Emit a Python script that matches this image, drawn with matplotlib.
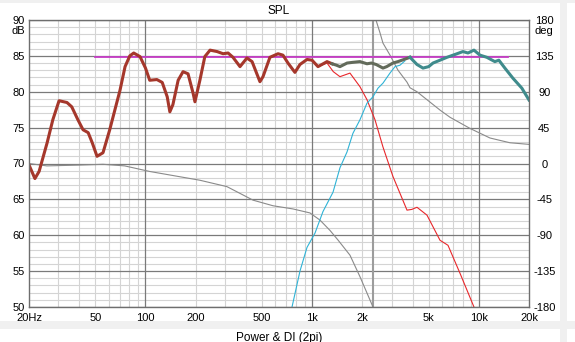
import matplotlib
matplotlib.use("Agg")
import matplotlib.pyplot as plt
from matplotlib.patches import Rectangle

plt.rcParams['font.family'] = ['Liberation Sans', 'DejaVu Sans']
plt.rcParams['font.size'] = 8

# --- SPL, summed response (low part, brown) ---
sum_lo_f = [20, 21.7, 23, 25.7, 27.8, 30.3, 33.8, 36.1, 39.3, 42.2, 45.3, 47.9,
            51.2, 55.6, 61, 70.3, 75.4, 80.5, 85, 92.7, 100, 106, 117, 126, 135,
            140, 146, 157, 168, 180, 193, 198, 212, 227, 244, 269, 292, 313, 335,
            369, 406, 436, 486, 507, 558, 624, 668, 716, 788, 845, 931, 998,
            1084, 1228, 1316]
sum_lo_db = [69.8, 67.9, 68.9, 72.9, 76.1, 78.75, 78.5, 77.9, 76.1, 74.7, 74.3, 72.9,
             71.0, 71.5, 74.7, 80.2, 83.5, 85.0, 85.4, 84.9, 83.3, 81.6, 81.7, 81.3, 79.3,
             77.2, 78.2, 81.6, 82.8, 82.5, 79.8, 78.6, 81.6, 84.9, 85.8, 85.6, 85.3, 85.4, 84.8,
             83.5, 84.7, 84.2, 81.4, 82.1, 84.8, 85.3, 85.1, 84.0, 82.7, 83.8, 84.5, 84.4,
             83.5, 84.2, 83.9]

# --- summed response, crossover region (dark grey) ---
sum_mid_f = [1316, 1400, 1468, 1620, 1756, 1936, 2132, 2270, 2420, 2660, 2800, 3052, 3270, 3864]
sum_mid_db = [83.9, 83.7, 83.5, 84.0, 84.1, 84.2, 83.9, 84.0, 83.8, 83.3, 83.5, 84.0, 84.2, 84.8]

# --- summed response, tweeter region (teal) ---
sum_hi_f = [3864, 4255, 4624, 5000, 5309, 5850, 6440, 7200, 8030, 8610, 9350,
            10160, 11170, 12480, 13190, 14330, 16000, 18120, 20000]
sum_hi_db = [84.8, 83.8, 83.3, 83.5, 84.0, 84.4, 84.8, 85.2, 85.6, 85.4, 85.8,
             85.1, 84.8, 84.2, 84.4, 83.3, 81.9, 80.5, 78.85]

# --- woofer (red) ---
woofer_f = [1084, 1228, 1339, 1468, 1686, 1936, 2132, 2382, 2660, 3052, 3707,
            3960, 4255, 4886, 5850, 6530, 7710, 9350, 9800]
woofer_db = [83.5, 84.0, 82.8, 82.1, 82.6, 80.7, 78.9, 76.1, 72.3, 68.2, 63.5,
             63.6, 63.9, 62.8, 59.3, 58.6, 54.7, 50.0, 49.0]

# --- tweeter (cyan) ---
tweeter_f = [740, 757, 845, 931, 1040, 1161, 1334, 1468, 1618, 1756, 1936, 2132,
             2317, 2483, 2660, 2930, 3140, 3365, 3600]
tweeter_db = [48.5, 50, 55, 58.3, 60.3, 63.3, 66, 69.4, 71.6, 74.2, 76.1, 78.4,
              79.3, 80.5, 81.2, 82.6, 83.5, 83.7, 84.3]

# --- phase curves (deg, right axis) ---
phase_lo_f = [20, 25.6, 40, 55.6, 75, 106, 212, 308, 442, 582, 767, 970, 1114,
              1280, 1429, 1686, 1936, 2317]
phase_lo_deg = [0, -3, -2, -1, -3, -10, -21, -29, -46, -53, -57, -62, -71,
                -84, -96, -115, -142, -180]
phase_hi_f = [2414, 2552, 2660, 2930, 3274, 3707, 3864, 4255, 5094, 5850, 6714,
              8852, 11660, 15380, 20000]
phase_hi_deg = [180, 164, 151, 136, 117, 102, 95, 90, 77, 67, 58, 44, 32, 26, 24]

# target level and crossover frequency
target_f = [50, 15000]
target_db = [84.85, 84.85]
xover_f = 2330

x_ticks = [20, 50, 100, 200, 500, 1000, 2000, 5000, 10000, 20000]
x_labels = ['20Hz', '50', '100', '200', '500', '1k', '2k', '5k', '10k', '20k']
y_ticks = list(range(50, 91, 5))
deg_ticks = list(range(-180, 181, 45))

W, H = 575, 342
fig = plt.figure(figsize=(W / 100, H / 100), dpi=100, facecolor='#f0f0f0')

# white panels of the window
for x0, y0, x1, y1 in [(0, 3, 560, 321), (0, 329, 560, 342),
                       (567, 3, 575, 321), (567, 329, 575, 342)]:
    fig.patches.append(Rectangle((x0 / W, 1 - y1 / H), (x1 - x0) / W, (y1 - y0) / H,
                                 transform=fig.transFigure, facecolor='white',
                                 edgecolor='none', zorder=-10))

ax = fig.add_axes([29 / W, (H - 307) / H, 500 / W, 287 / H])
ax.set_xscale('log')
ax.set_xlim(20, 20000)
ax.set_ylim(50, 90)
ph = ax.twinx()
ph.set_ylim(-180, 180)
ax.set_zorder(2)
ph.set_zorder(1)
ax.patch.set_visible(False)

light = '#d4d4d4'
dark = '#7a7a7a'
# grid (drawn on the phase axes so that it stays under every curve)
minor_f = [f * m for m in (10, 100, 1000) for f in range(2, 10)]
minor_f = [f for f in minor_f if 20 < f < 20000]
for f in minor_f:
    ph.axvline(f, color=light, lw=0.8, zorder=0)
for f in (100, 1000, 10000):
    ph.axvline(f, color=dark, lw=0.9, zorder=0.5)
for d in range(-180, 181, 9):
    if d % 45 == 0:
        ph.axhline(d, color=dark, lw=0.9, zorder=0.5)
    else:
        ph.axhline(d, color=light, lw=0.8, zorder=0)

ph.axvline(xover_f, color='#9c9c9c', lw=1.5, zorder=1)
ph.plot(phase_lo_f, phase_lo_deg, color='#8a8a8a', lw=0.8, zorder=2)
ph.plot(phase_hi_f, phase_hi_deg, color='#8a8a8a', lw=0.8, zorder=2)

ax.plot(woofer_f, woofer_db, color='#e8272b', lw=0.8)
ax.plot(tweeter_f, tweeter_db, color='#2fb3d6', lw=0.8)
ax.plot(target_f, target_db, color='#c63cc6', lw=1.3)
ax.plot(sum_lo_f, sum_lo_db, color='#a5372b', lw=2.2, solid_joinstyle='round')
ax.plot(sum_mid_f, sum_mid_db, color='#626a5a', lw=2.2, solid_joinstyle='round')
ax.plot(sum_hi_f, sum_hi_db, color='#3f8b8c', lw=2.2, solid_joinstyle='round')

ax.set_xticks(x_ticks)
ax.set_xticklabels(x_labels)
ax.xaxis.set_minor_locator(matplotlib.ticker.NullLocator())
ax.set_yticks(y_ticks)
ax.set_yticklabels([str(v) for v in y_ticks])
ax.tick_params(axis='both', length=0, labelsize=8)
ax.tick_params(axis='x', pad=4.5)
ax.tick_params(axis='y', pad=3)

ph.set_yticks(deg_ticks)
ph.set_yticklabels([str(v) for v in deg_ticks])
ph.tick_params(axis='y', length=0, labelsize=8, pad=11)
for lbl in ph.get_yticklabels():
    lbl.set_horizontalalignment('center')

for sp in ax.spines.values():
    sp.set_color('#6e6e6e')
    sp.set_linewidth(1)
for sp in ph.spines.values():
    sp.set_visible(False)

ax.annotate('dB', xy=(0, 1), xycoords='axes fraction', xytext=(-3, -8),
            textcoords='offset points', ha='right', va='center', fontsize=8)
ph.annotate('deg', xy=(1, 1), xycoords='axes fraction', xytext=(11, -8),
            textcoords='offset points', ha='center', va='center', fontsize=8)

fig.text(279 / W, 1 - 11 / H, 'SPL', ha='center', va='center', fontsize=8.5)
fig.text(279 / W, 1 - 331.5 / H, 'Power & DI (2pi)', ha='center', va='top', fontsize=8.5)

fig.savefig('out.png', dpi=100, facecolor=fig.get_facecolor())
